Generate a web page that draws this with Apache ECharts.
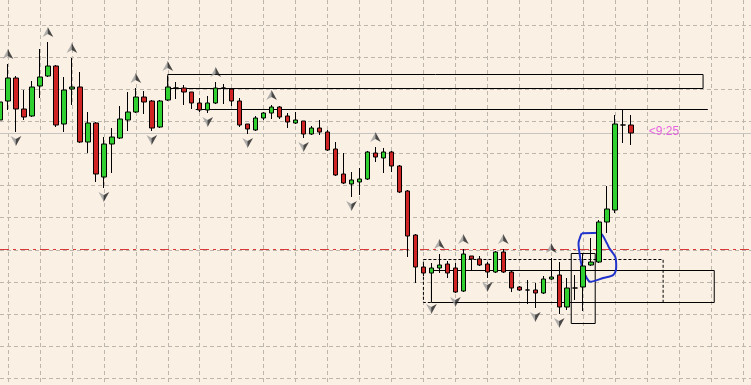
<!DOCTYPE html>
<html>
<head>
<meta charset="utf-8">
<script src="https://cdn.jsdelivr.net/npm/echarts@6/dist/echarts.min.js"></script>
<style>
  html, body { margin: 0; padding: 0; background: #FAF0E4; }
  #main { width: 751px; height: 385px; }
</style>
</head>
<body>
<div id="main"></div>
<script>
// 80 bars shown + empty bars to the right (chart shift)
var barCount = 95;
var bars = [];
for (var i = 0; i < barCount; i++) bars.push('bar ' + (i + 1));

// price grid levels (top / bottom grid line, step)
var gridTop = 1375;
var gridBottom = 1021.7;
var gridStep = 32.12;

// OHLC
var open = [1280,1299,1322,1291,1284,1314,1324,1334,1276,1311,1313,1258,1277,1223,1256,1262,1280,1288,1303,1299,
            1273,1300,1312,1312,1308,1297,1290,1297,1312,1311,1299,1276,1270,1282,1287,1293,1284,1277,1279,1266,
            1272,1268,1251,1226,1216,1218,1221,1247,1242,1248,1234,1209,1165,1133,1127,1132,1136,1132,1109,1144,
            1141,1136,1128,1148,1128,1113,1110,1110,1107,1121,1125,1093,1112,1113,1135,1138,1178,1190,1275,1275];
var close = [1298,1322,1291,1283,1313,1323,1334,1275,1310,1313,1258,1277,1226,1256,1263,1281,1288,1303,1298,1272,
             1299,1313,1312,1308,1297,1290,1297,1312,1312,1299,1275,1271,1282,1287,1293,1283,1278,1280,1266,1272,
             1268,1250,1225,1217,1220,1221,1248,1243,1248,1234,1208,1164,1133,1127,1132,1135,1127,1108,1146,1141,
             1135,1128,1148,1128,1112,1110,1110,1107,1121,1123,1093,1112,1112,1134,1138,1178,1191,1276,1275,1267];
var low = [1276,1290,1268,1280,1283,1302,1323,1273,1268,1295,1257,1247,1218,1212,1227,1261,1269,1287,1286,1269,
           1272,1299,1301,1295,1291,1288,1287,1296,1296,1294,1273,1266,1269,1280,1281,1281,1272,1276,1262,1265,
           1265,1249,1224,1216,1203,1205,1220,1238,1227,1228,1207,1143,1117,1124,1100,1127,1122,1107,1108,1130,
           1134,1122,1127,1127,1108,1109,1096,1092,1106,1120,1086,1090,1100,1089,1134,1137,1167,1187,1257,1255];
var high = [1303,1336,1324,1310,1319,1351,1358,1335,1323,1342,1328,1288,1278,1263,1272,1294,1308,1312,1309,1300,
            1300,1324,1318,1315,1308,1302,1304,1318,1316,1311,1302,1276,1284,1288,1295,1294,1287,1288,1279,1274,
            1280,1270,1258,1247,1228,1232,1249,1253,1252,1249,1235,1210,1166,1136,1137,1146,1139,1137,1151,1144,
            1144,1138,1149,1151,1129,1114,1120,1117,1124,1142,1138,1122,1125,1146,1162,1180,1214,1285,1290,1285];

// fractal arrows (bar indexes)
var upFractals = [1, 6, 9, 17, 21, 27, 34, 47, 55, 58, 63, 69];
var downFractals = [2, 13, 19, 26, 31, 38, 44, 54, 57, 61, 67, 70];

// drawn objects: [barFrom, priceTop, barTo, priceBottom]
var solidBoxes = [[21, 1325.5, 88, 1311.5], [54, 1129.5, 89.4, 1097.5], [71.5, 1146.5, 74.5, 1076.5]];
var dashedBoxes = [[53, 1140.5, 83, 1097.5]];
var trendLine = [[24.5, 1290.5], [88.6, 1290.5]];
var levelLine = 1150.5;
var bidPrice = 1266.5;
var timeLeft = '<9:25';
// blue hand drawn outline [bar, price]
var outline = [[72.84,1166.7],[75.04,1167.3],[75.96,1156.7],[76.25,1152],[77.0,1143.3],[77.13,1133.3],
               [76.75,1125],[75.5,1122],[73.88,1118.3],[73.46,1121.7],[72.84,1133.3],[72.54,1146.7],
               [72.41,1156.7],[72.71,1165],[72.84,1166.7]];

var candles = [];
for (var i = 0; i < open.length; i++) candles.push([open[i], close[i], low[i], high[i]]);
var upPts = upFractals.map(function (k) { return [k, high[k]]; });
var downPts = downFractals.map(function (k) { return [k, low[k]]; });

var boxAreas = [];
solidBoxes.forEach(function (b) {
  boxAreas.push([{ coord: [b[0], b[1]], itemStyle: { borderType: 'solid' } }, { coord: [b[2], b[3]] }]);
});
dashedBoxes.forEach(function (b) {
  var st = { borderType: [3, 2] };
  boxAreas.push([{ coord: [b[0], b[1]], itemStyle: st }, { coord: [b[2], b[3]], itemStyle: st }]);
});

// a straight line on the overlay axis
function objLine(pts, color, type) {
  return {
    type: 'line',
    xAxisIndex: 1,
    yAxisIndex: 0,
    data: pts,
    symbol: 'none',
    silent: true,
    clip: false,
    z: 2,
    lineStyle: { color: color, width: 1, type: type }
  };
}

// one half of a fractal arrow (two tone, like the terminal's glyph)
function arrowHalf(pts, path, dx, dy, color) {
  return {
    type: 'scatter',
    xAxisIndex: 0,
    yAxisIndex: 0,
    data: pts,
    clip: false,
    silent: true,
    symbol: path,
    symbolSize: [5.5, 10],
    symbolOffset: [dx, dy],
    itemStyle: { color: color },
    z: 4
  };
}

var gridColor = '#BDB6AD';
var myChart = echarts.init(document.getElementById('main'));

var option = {
  animation: false,
  backgroundColor: '#FAF0E4',
  grid: [
    // price area: top and bottom edges sit on grid lines
    { left: 0, right: 0, top: 25, bottom: 6.7 },
    // full height, only for the vertical grid lines
    { left: 0, right: 0, top: 0, bottom: 0 }
  ],
  xAxis: [
    {
      type: 'category',
      gridIndex: 0,
      data: bars,
      boundaryGap: false,
      axisLine: { show: false },
      axisTick: { show: false },
      axisLabel: { show: false },
      splitLine: { show: false }
    },
    {
      type: 'value',
      gridIndex: 0,
      min: 0,
      max: barCount - 1,
      show: false
    },
    {
      type: 'category',
      gridIndex: 1,
      data: bars,
      boundaryGap: false,
      axisLine: { show: false },
      axisTick: { show: false },
      axisLabel: { show: false },
      splitLine: {
        show: true,
        interval: function (idx) { return idx % 4 === 1; },
        lineStyle: { color: gridColor, type: [4, 3], width: 1 }
      }
    }
  ],
  yAxis: [
    {
      type: 'value',
      gridIndex: 0,
      min: gridBottom,
      max: gridTop,
      interval: gridStep,
      axisLine: { show: false },
      axisTick: { show: false },
      axisLabel: { show: false },
      splitLine: { lineStyle: { color: gridColor, type: [4, 3], width: 1 } }
    },
    {
      type: 'value',
      gridIndex: 1,
      show: false,
      splitLine: { show: false }
    }
  ],
  series: [
    {
      // rectangles + blue hand drawn outline
      type: 'line',
      xAxisIndex: 1,
      yAxisIndex: 0,
      data: outline,
      smooth: 0.3,
      symbol: 'none',
      clip: false,
      z: 1,
      lineStyle: { color: '#2233CC', width: 2 },
      markArea: {
        silent: true,
        itemStyle: { color: 'rgba(0,0,0,0)', borderColor: '#000', borderWidth: 1 },
        data: boxAreas
      }
    },
    objLine([[0, bidPrice], [barCount - 1, bidPrice]], '#C8C4C0', 'solid'),
    objLine([[0, levelLine], [barCount - 1, levelLine]], '#D83A3A', [9, 4, 3, 4]),
    objLine(trendLine, '#000000', 'solid'),
    {
      type: 'candlestick',
      xAxisIndex: 0,
      yAxisIndex: 0,
      data: candles,
      barWidth: 5,
      clip: false,
      z: 3,
      itemStyle: {
        color: '#2FD02F',
        color0: '#D02424',
        borderColor: '#000',
        borderColor0: '#000',
        borderWidth: 1
      }
    },
    arrowHalf(upPts, 'path://M5,0 L5,7 L0,10 Z', -2.6, -10, '#9C9C9C'),
    arrowHalf(upPts, 'path://M0,0 L5,10 L0,7 Z', 2.6, -10, '#1E1E1E'),
    arrowHalf(downPts, 'path://M0,0 L5,3 L5,10 Z', -2.6, 9, '#9C9C9C'),
    arrowHalf(downPts, 'path://M5,0 L0,10 L0,3 Z', 2.6, 9, '#1E1E1E'),
    {
      type: 'scatter',
      xAxisIndex: 1,
      yAxisIndex: 0,
      data: [[81.2, bidPrice + 2]],
      symbolSize: 0,
      silent: true,
      label: {
        show: true,
        position: 'right',
        distance: 0,
        formatter: timeLeft,
        color: '#E040E0',
        fontSize: 12,
        fontFamily: 'Liberation Sans, Arial, sans-serif'
      }
    }
  ]
};

myChart.setOption(option);
</script>
</body>
</html>
